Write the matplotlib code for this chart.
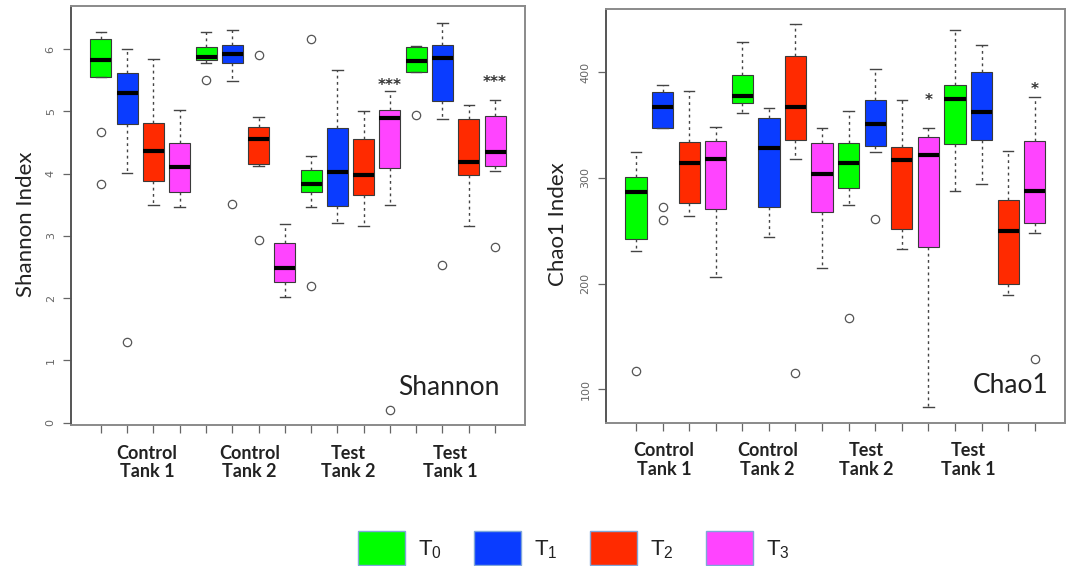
import matplotlib
matplotlib.use("Agg")
import matplotlib.pyplot as plt
from matplotlib.patches import Patch
from matplotlib.transforms import blended_transform_factory

plt.rcParams['font.family'] = ['Lato', 'DejaVu Sans']

# ---------------------------------------------------------------------------
# Data
# ---------------------------------------------------------------------------
series_names = ["T$_\\mathregular{0}$", "T$_\\mathregular{1}$",
                "T$_\\mathregular{2}$", "T$_\\mathregular{3}$"]
series_colors = ["#00ff00", "#0a3cff", "#ff2a00", "#ff44ff"]
groups = ["Control\nTank 1", "Control\nTank 2", "Test\nTank 2", "Test\nTank 1"]

# 16 boxes: 4 groups x (T0, T1, T2, T3)
shannon_lo = [5.56, 4.01, 3.49, 3.46, 5.78, 5.49, 4.12, 2.01,
              3.46, 3.21, 3.16, 3.49, 5.64, 4.87, 3.16, 4.04]
shannon_q1 = [5.56, 4.79, 3.88, 3.70, 5.82, 5.78, 4.15, 2.26,
              3.71, 3.48, 3.66, 4.09, 5.64, 5.16, 3.98, 4.12]
shannon_med = [5.83, 5.30, 4.36, 4.10, 5.87, 5.93, 4.55, 2.48,
               3.83, 4.02, 3.98, 4.90, 5.81, 5.86, 4.19, 4.35]
shannon_q3 = [6.16, 5.61, 4.81, 4.49, 6.03, 6.06, 4.75, 2.88,
              4.06, 4.74, 4.55, 5.03, 6.03, 6.07, 4.87, 4.92]
shannon_hi = [6.27, 6.00, 5.84, 5.02, 6.27, 6.30, 4.91, 3.19,
              4.29, 5.66, 5.00, 5.32, 6.05, 6.42, 5.10, 5.18]
shannon_fliers = [[4.67, 3.84], [1.30], [], [], [5.50], [3.51], [5.90, 2.93], [],
                  [6.17, 2.20], [], [], [0.21], [4.95], [2.53], [], [2.82]]
shannon_sig_pos = [12, 16]
shannon_sig_y = [5.42, 5.46]
shannon_sig_txt = ["***", "***"]
shannon_group_x = [2.75, 6.65, 10.43, 14.3]

chao1_lo = [230.9, 347.6, 263.7, 206.0, 361.5, 244.4, 318.3, 214.8,
            274.1, 324.6, 233.1, 82.9, 287.7, 294.0, 189.6, 247.6]
chao1_q1 = [242.6, 347.6, 276.6, 271.0, 370.7, 272.2, 336.3, 268.1,
            290.2, 330.3, 251.4, 235.0, 331.9, 335.9, 200.0, 257.7]
chao1_med = [286.7, 367.5, 314.5, 318.0, 377.6, 328.7, 366.9, 303.5,
             314.2, 350.8, 317.3, 322.1, 375.1, 362.1, 249.8, 287.4]
chao1_q3 = [301.2, 381.1, 334.4, 334.7, 397.5, 356.5, 415.1, 332.8,
            333.4, 373.8, 329.6, 338.5, 388.0, 400.6, 279.2, 334.7]
chao1_hi = [324.3, 388.3, 382.3, 348.3, 428.4, 366.6, 445.7, 347.0,
            363.4, 402.8, 373.8, 347.0, 440.1, 426.2, 325.9, 376.3]
chao1_fliers = [[117.0], [272.5, 260.6], [], [], [], [], [115.7], [],
                [167.8], [260.9], [], [], [], [], [], [128.7]]
chao1_sig_pos = [12, 16]
chao1_sig_y = [372.9, 383.3]
chao1_sig_txt = ["*", "*"]
chao1_group_x = [2.05, 5.95, 9.67, 13.5]


def draw_panel(ax, lo, q1, med, q3, hi, fliers, sig_pos, sig_y, sig_txt,
               group_x, ylim, yticks, ylabel, tag, label_x, tag_x):
    stats = []
    for i in range(len(med)):
        stats.append(dict(whislo=lo[i], q1=q1[i], med=med[i], q3=q3[i],
                          whishi=hi[i], fliers=fliers[i]))
    positions = list(range(1, len(stats) + 1))
    bp = ax.bxp(stats, positions=positions, widths=0.8, capwidths=0.4,
                patch_artist=True, showfliers=True,
                boxprops=dict(edgecolor="#3a3a3a", linewidth=0.8),
                whiskerprops=dict(color="#444444", linewidth=1.0,
                                  linestyle=(0, (2, 2.5))),
                capprops=dict(color="#444444", linewidth=1.0),
                medianprops=dict(color="black", linewidth=3),
                flierprops=dict(marker="o", markerfacecolor="none",
                                markeredgecolor="#555555", markersize=6,
                                markeredgewidth=0.9))
    for i, box in enumerate(bp["boxes"]):
        box.set_facecolor(series_colors[i % 4])

    for p, y, t in zip(sig_pos, sig_y, sig_txt):
        ax.text(p, y, t, ha="center", va="center", fontsize=11,
                fontweight="bold", color="#333333", family="DejaVu Sans")

    ax.set_xlim(-0.14, 17.14)
    ax.set_ylim(*ylim)
    ax.set_xticks(positions)
    ax.set_xticklabels([])
    ax.set_yticks(yticks)
    ax.set_yticklabels([str(v) for v in yticks], rotation=90, va="center",
                       fontsize=8, color="#666666", family="DejaVu Sans")
    ax.tick_params(direction="out", length=6, width=0.9, colors="#666666",
                   labelcolor="#666666", pad=5)
    for s in ax.spines.values():
        s.set_color("#8a8a8a")
        s.set_linewidth(1.4)
    ax.spines["left"].set_color("#555555")

    ax.set_ylabel(ylabel, fontsize=16, color="#222222")
    ax.yaxis.set_label_coords(label_x, 0.48)

    trans = blended_transform_factory(ax.transData, ax.transAxes)
    for gx, g in zip(group_x, groups):
        ax.text(gx, -0.09, g, transform=trans, ha="center", va="center",
                fontsize=13, fontweight="bold", color="#222222",
                linespacing=1.1)

    ax.text(tag_x, 0.09, tag, transform=ax.transAxes, ha="right",
            va="center", fontsize=19, color="#222222")


fig = plt.figure(figsize=(10.69, 5.66), dpi=100)
ax1 = fig.add_axes([0.0664, 0.249, 0.4247, 0.740])
ax2 = fig.add_axes([0.5666, 0.2532, 0.4297, 0.7304])

draw_panel(ax1, shannon_lo, shannon_q1, shannon_med, shannon_q3, shannon_hi,
           shannon_fliers, shannon_sig_pos, shannon_sig_y, shannon_sig_txt,
           shannon_group_x, (-0.04, 6.69), [0, 1, 2, 3, 4, 5, 6],
           "Shannon Index", "Shannon", -0.078, 0.945)
draw_panel(ax2, chao1_lo, chao1_q1, chao1_med, chao1_q3, chao1_hi,
           chao1_fliers, chao1_sig_pos, chao1_sig_y, chao1_sig_txt,
           chao1_group_x, (68.4, 459.6), [100, 200, 300, 400],
           "Chao1 Index", "Chao1", -0.083, 0.963)

handles = [Patch(facecolor=c, edgecolor="#7fa6d9", linewidth=1.0)
           for c in series_colors]
leg = fig.legend(handles, series_names, loc="center", ncol=4,
                 bbox_to_anchor=(0.537, 0.032), frameon=False,
                 handlelength=2.1, handleheight=2.0, handletextpad=0.6,
                 columnspacing=1.45, prop=dict(family="Liberation Sans", size=16))
for t in leg.get_texts():
    t.set_color("#222222")

fig.savefig("out.png", dpi=100)
